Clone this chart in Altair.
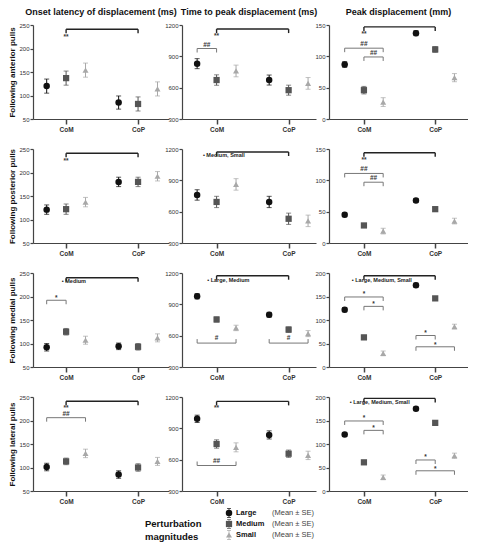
import altair as alt
import pandas as pd

SIZES = ["Large", "Medium", "Small"]
SITES = ["CoM", "CoP"]
COLORS = ["#111111", "#555555", "#a8a8a8"]
SHAPES = ["circle", "square", "triangle-up"]
MARK_SIZES = [42, 36, 28]

ROW_TITLES = ["Following anterior pulls", "Following posterior pulls",
              "Following medial pulls", "Following lateral pulls"]
COL_TITLES = ["Onset latency of displacement (ms)", "Time to peak displacement (ms)",
              "Peak displacement (mm)"]

# order: Large CoM, Medium CoM, Small CoM, Large CoP, Medium CoP, Small CoP
ONSET_MEAN = [[120, 137, 154, 85, 82, 114], [121, 122, 137, 180, 180, 192],
              [92, 125, 107, 94, 93, 112], [101, 113, 130, 85, 100, 113]]
ONSET_SE = [[15, 15, 15, 14, 15, 15], [10, 11, 10, 10, 10, 10],
            [8, 7, 8.5, 7, 7, 8.5], [8, 7, 9, 8, 8, 8.5]]
TTP_MEAN = [[830, 673, 760, 673, 576, 641], [760, 693, 861, 693, 532, 512],
            [977, 755, 674, 800, 658, 620], [991, 750, 718, 837, 657, 641]]
TTP_SE = [[48, 50, 56, 48, 48, 56], [50, 54, 55, 54, 54, 55],
          [25, 24, 26, 23, 26, 29], [35, 40, 43, 39, 35, 40]]
PEAK_MEAN = [[87, 46, 27, 137, 111, 66], [45, 28, 19, 68, 54, 35],
             [122, 63, 29, 174, 146, 86], [120, 61, 29, 175, 145, 75]]
PEAK_SE = [[4.5, 6, 7, 4, 4.5, 6.5], [3, 3, 4.5, 3, 3, 4.5],
           [4.5, 4.5, 5, 4.5, 3.5, 5], [4, 4, 5, 4, 3.5, 5.5]]

Y_TICKS_ONSET = [50, 100, 150, 200, 250]
Y_TICKS_TTP = [300, 600, 900, 1200]
Y_TICKS_PEAK_A = [0, 50, 100, 150]
Y_TICKS_PEAK_B = [0, 50, 100, 150, 200]
Y_TICKS = [[Y_TICKS_ONSET] * 4, [Y_TICKS_TTP] * 4,
           [Y_TICKS_PEAK_A, Y_TICKS_PEAK_A, Y_TICKS_PEAK_B, Y_TICKS_PEAK_B]]

MEANS = [ONSET_MEAN, TTP_MEAN, PEAK_MEAN]
SES = [ONSET_SE, TTP_SE, PEAK_SE]

OFFSET = {"Large": -0.27, "Medium": 0.0, "Small": 0.27}
SITE_POS = {"CoM": 1, "CoP": 2}

# (row, col, site1, size1, site2, size2, y, kind)
BRACKETS = [
    (0, 0, "CoM", "Medium", "CoP", "Medium", 241, "main"),
    (0, 1, "CoM", "Medium", "CoP", "Medium", 1161, "main"),
    (0, 1, "CoM", "Large", "CoM", "Medium", 975, "down"),
    (0, 2, "CoM", "Medium", "CoP", "Medium", 147, "main"),
    (0, 2, "CoM", "Large", "CoM", "Small", 113, "down"),
    (0, 2, "CoM", "Medium", "CoM", "Small", 99, "down"),
    (1, 0, "CoM", "Medium", "CoP", "Medium", 241, "main"),
    (1, 1, "CoM", "Medium", "CoP", "Medium", 1171, "main"),
    (1, 2, "CoM", "Medium", "CoP", "Medium", 144, "main"),
    (1, 2, "CoM", "Large", "CoM", "Small", 111, "down"),
    (1, 2, "CoM", "Medium", "CoM", "Small", 97, "down"),
    (2, 0, "CoM", "Medium", "CoP", "Medium", 240, "main"),
    (2, 0, "CoM", "Large", "CoM", "Medium", 192, "down"),
    (2, 1, "CoM", "Medium", "CoP", "Medium", 1174, "main"),
    (2, 1, "CoM", "Large", "CoM", "Small", 529, "up"),
    (2, 1, "CoP", "Large", "CoP", "Small", 529, "up"),
    (2, 2, "CoM", "Medium", "CoP", "Medium", 194, "main"),
    (2, 2, "CoM", "Large", "CoM", "Small", 149, "down"),
    (2, 2, "CoM", "Medium", "CoM", "Small", 129, "down"),
    (2, 2, "CoP", "Large", "CoP", "Medium", 67, "down"),
    (2, 2, "CoP", "Large", "CoP", "Small", 43, "down"),
    (3, 0, "CoM", "Medium", "CoP", "Medium", 241, "main"),
    (3, 0, "CoM", "Large", "CoM", "Small", 206, "down"),
    (3, 1, "CoM", "Medium", "CoP", "Medium", 1158, "main"),
    (3, 1, "CoM", "Large", "CoM", "Small", 544, "up"),
    (3, 2, "CoM", "Medium", "CoP", "Medium", 197, "main"),
    (3, 2, "CoM", "Large", "CoM", "Small", 149, "down"),
    (3, 2, "CoM", "Medium", "CoM", "Small", 129, "down"),
    (3, 2, "CoP", "Large", "CoP", "Medium", 66, "down"),
    (3, 2, "CoP", "Large", "CoP", "Small", 43, "down"),
]

# (row, col, site, dx, y, text)
LABELS = [
    (0, 0, "CoM", 0.0, 230, "**"),
    (0, 1, "CoM", 0.0, 1122, "**"),
    (0, 1, "CoM", -0.135, 1012, "##"),
    (0, 2, "CoM", 0.0, 140, "**"),
    (0, 2, "CoM", 0.0, 119, "##"),
    (0, 2, "CoM", 0.135, 105, "##"),
    (1, 0, "CoM", 0.0, 230, "**"),
    (1, 2, "CoM", 0.0, 137, "**"),
    (1, 2, "CoM", 0.0, 118, "##"),
    (1, 2, "CoM", 0.135, 104, "##"),
    (2, 0, "CoM", -0.135, 202, "*"),
    (2, 1, "CoM", 0.0, 578, "#"),
    (2, 1, "CoP", 0.0, 578, "#"),
    (2, 2, "CoM", 0.0, 160, "*"),
    (2, 2, "CoM", 0.135, 140, "*"),
    (2, 2, "CoP", -0.135, 77, "*"),
    (2, 2, "CoP", 0.0, 53, "*"),
    (3, 0, "CoM", 0.0, 231, "**"),
    (3, 0, "CoM", 0.0, 213, "##"),
    (3, 1, "CoM", 0.0, 1122, "**"),
    (3, 1, "CoM", 0.0, 590, "##"),
    (3, 2, "CoM", 0.0, 160, "*"),
    (3, 2, "CoM", 0.135, 140, "*"),
    (3, 2, "CoP", -0.135, 77, "*"),
    (3, 2, "CoP", 0.0, 53, "*"),
]

# (row, col, site, dx, y, text)
NOTES = [
    (1, 1, "CoM", -0.19, 1140, "\u2022 Medium, Small"),
    (2, 0, "CoM", -0.06, 232, "\u2022 Medium"),
    (2, 1, "CoM", -0.13, 1132, "\u2022 Large, Medium"),
    (2, 2, "CoM", -0.17, 186, "\u2022 Large, Medium, Small"),
    (3, 2, "CoM", -0.2, 189, "\u2022 Large, Medium, Small"),
]

WIDTHS = [136, 134, 139]
X_DOMAINS = [[0.54, 2.43], [0.52, 2.38], [0.51, 2.46]]
PANEL_H = 94


def pos(site, size):
    return SITE_POS[site] + OFFSET[size]


def xenc(field, c):
    return alt.X(f"{field}:Q",
                 scale=alt.Scale(domain=X_DOMAINS[c], nice=False, zero=False),
                 axis=alt.Axis(values=[1, 2], title=None,
                               labelExpr="datum.value == 1 ? 'CoM' : 'CoP'"))


def yenc(field, r, c):
    ticks = Y_TICKS[c][r]
    return alt.Y(f"{field}:Q",
                 scale=alt.Scale(domain=[ticks[0], ticks[-1]], nice=False, zero=False),
                 axis=alt.Axis(values=ticks, format="d",
                               title=ROW_TITLES[r] if c == 0 else None))


color_enc = alt.Color("size:N", scale=alt.Scale(domain=SIZES, range=COLORS), legend=None)
shape_enc = alt.Shape("size:N", scale=alt.Scale(domain=SIZES, range=SHAPES), legend=None)
size_enc = alt.Size("size:N", scale=alt.Scale(domain=SIZES, range=MARK_SIZES), legend=None)


def panel(r, c):
    means = MEANS[c][r]
    ses = SES[c][r]
    pts = []
    for k in range(6):
        site = SITES[k // 3]
        sz = SIZES[k % 3]
        pts.append(dict(x=pos(site, sz), size=sz, mean=means[k],
                        lo=means[k] - ses[k], hi=means[k] + ses[k]))
    pdf = pd.DataFrame(pts)
    base = alt.Chart(pdf)
    layers = [
        base.mark_rule(strokeWidth=1).encode(x=xenc("x", c), y=yenc("lo", r, c),
                                             y2="hi:Q", color=color_enc),
        base.mark_tick(orient="horizontal", size=5, thickness=1).encode(
            x=xenc("x", c), y=yenc("lo", r, c), color=color_enc),
        base.mark_tick(orient="horizontal", size=5, thickness=1).encode(
            x=xenc("x", c), y=yenc("hi", r, c), color=color_enc),
        base.mark_point(filled=True, opacity=1).encode(
            x=xenc("x", c), y=yenc("mean", r, c), color=color_enc,
            shape=shape_enc, size=size_enc),
    ]
    br = [b for b in BRACKETS if b[0] == r and b[1] == c]
    for kind, col, sw, off in [("main", "#222222", 1.4, 4), ("down", "#777777", 1, 4),
                               ("up", "#777777", 1, -4)]:
        sub = [b for b in br if b[7] == kind]
        if not sub:
            continue
        bdf = pd.DataFrame([dict(x1=pos(b[2], b[3]), x2=pos(b[4], b[5]), yb=b[6]) for b in sub])
        edf = pd.DataFrame([dict(xe=pos(b[2], b[3]), yb=b[6]) for b in sub] +
                           [dict(xe=pos(b[4], b[5]), yb=b[6]) for b in sub])
        layers.append(alt.Chart(bdf).mark_rule(color=col, strokeWidth=sw).encode(
            x=xenc("x1", c), x2="x2:Q", y=yenc("yb", r, c)))
        layers.append(alt.Chart(edf).mark_rule(color=col, strokeWidth=sw, y2Offset=off).encode(
            x=xenc("xe", c), y=yenc("yb", r, c), y2="yb:Q"))
    lb = [l for l in LABELS if l[0] == r and l[1] == c]
    for is_star, dy in [(True, 2.5), (False, 0)]:
        sub = [l for l in lb if ("*" in l[5]) == is_star]
        if not sub:
            continue
        ldf = pd.DataFrame([dict(x=SITE_POS[l[2]] + l[3], y=l[4], t=l[5]) for l in sub])
        layers.append(alt.Chart(ldf).mark_text(fontSize=6.5, fontWeight="bold", color="#333333",
                                               baseline="middle", align="center", dy=dy).encode(
            x=xenc("x", c), y=yenc("y", r, c), text="t:N"))
    nt = [n for n in NOTES if n[0] == r and n[1] == c]
    if nt:
        ndf = pd.DataFrame([dict(x=SITE_POS[n[2]] + n[3], y=n[4], t=n[5]) for n in nt])
        layers.append(alt.Chart(ndf).mark_text(fontSize=5.5, fontWeight="bold", color="#222222",
                                               baseline="middle", align="left").encode(
            x=xenc("x", c), y=yenc("y", r, c), text="t:N"))
    props = dict(width=WIDTHS[c], height=PANEL_H)
    if r == 0:
        props["title"] = alt.TitleParams(COL_TITLES[c])
    return alt.layer(*layers).properties(**props)


panels = [panel(r, c) for r in range(4) for c in range(3)]

# legend (drawn below the first column, overflowing to the right)
ldf = pd.DataFrame({"size": SIZES})
ly = alt.Y("size:N", scale=alt.Scale(domain=SIZES, type="point", range=[-8, 14], padding=0),
           axis=None)
lbase = alt.Chart(ldf)
legend = alt.layer(
    lbase.mark_tick(orient="vertical", size=9, thickness=1).encode(
        y=ly, x=alt.value(196), color=color_enc),
    lbase.mark_tick(orient="horizontal", size=4, thickness=1, yOffset=-4.5).encode(
        y=ly, x=alt.value(196), color=color_enc),
    lbase.mark_tick(orient="horizontal", size=4, thickness=1, yOffset=4.5).encode(
        y=ly, x=alt.value(196), color=color_enc),
    lbase.mark_point(filled=True, opacity=1).encode(
        y=ly, x=alt.value(196), color=color_enc, shape=shape_enc, size=size_enc),
    lbase.mark_text(align="left", baseline="middle", fontSize=7.5, fontWeight="bold",
                    color="#111111").encode(y=ly, x=alt.value(203), text="size:N"),
    lbase.mark_text(align="left", baseline="middle", fontSize=7.5, color="#444444").encode(
        y=ly, x=alt.value(239), text=alt.value("(Mean \u00b1 SE)")),
    alt.Chart(pd.DataFrame({"t": ["Perturbation\nmagnitudes"]})).mark_text(
        align="left", baseline="middle", fontSize=9.5, fontWeight="bold", color="#111111",
        lineBreak="\n", lineHeight=13).encode(x=alt.value(112), y=alt.value(3), text="t:N"),
).properties(width=136, height=4)

chart = alt.concat(*panels, legend, columns=3, spacing={"row": 30, "column": 13},
                   bounds="flush", align="each").properties(padding=0).configure(
    font="Liberation Sans"
).configure_view(stroke=None).configure_axis(
    grid=False, domainColor="#444444", domainWidth=1.2, tickColor="#444444", tickWidth=1.2,
    tickSize=3, labelFontSize=6, labelColor="#333333", labelPadding=1, titleFontSize=8,
    titleFontWeight="bold", titleColor="#111111", titlePadding=2
).configure_axisX(
    tickSize=5, tickWidth=1.5, labelFontWeight="bold", labelFontSize=6.5, labelPadding=2
).configure_title(
    fontSize=9, fontWeight="bold", color="#111111", offset=5, anchor="middle"
)

chart.save("out.html", embed_options={"renderer": "svg", "actions": False})
